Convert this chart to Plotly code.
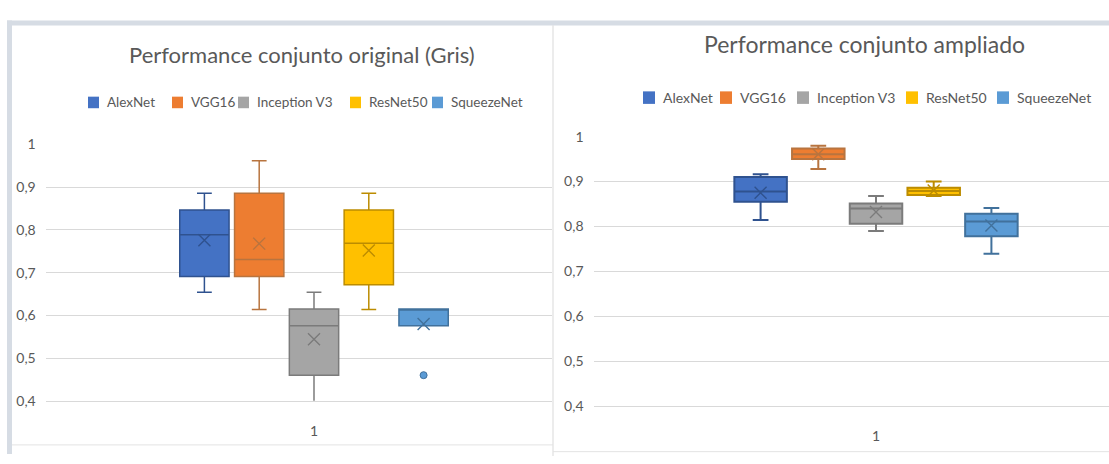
import plotly.graph_objects as go

W, H = 1109, 464

models = ["AlexNet", "VGG16", "Inception V3", "ResNet50", "SqueezeNet"]
fill_colors = ["#4472C4", "#ED7D31", "#A5A5A5", "#FFC000", "#5B9BD5"]
line_colors = ["#2F528F", "#B8743F", "#7B7B7B", "#BC8C00", "#41719C"]

# Left chart: Performance conjunto original (Gris)
orig_lower = [0.654, 0.614, 0.396, 0.614, 0.576]
orig_q1 = [0.691, 0.691, 0.460, 0.672, 0.576]
orig_median = [0.789, 0.731, 0.576, 0.769, 0.615]
orig_q3 = [0.847, 0.886, 0.615, 0.847, 0.615]
orig_upper = [0.886, 0.962, 0.654, 0.886, 0.615]
orig_mean = [0.776, 0.768, 0.544, 0.752, 0.580]
orig_outlier_model = ["SqueezeNet"]
orig_outlier_value = [0.460]

# Right chart: Performance conjunto ampliado
ampl_lower = [0.814, 0.928, 0.790, 0.868, 0.739]
ampl_q1 = [0.855, 0.950, 0.806, 0.870, 0.778]
ampl_median = [0.878, 0.961, 0.840, 0.879, 0.811]
ampl_q3 = [0.910, 0.9735, 0.851, 0.886, 0.828]
ampl_upper = [0.916, 0.980, 0.868, 0.900, 0.841]
ampl_mean = [0.875, 0.961, 0.832, 0.880, 0.802]

y_ticks = [0.4, 0.5, 0.6, 0.7, 0.8, 0.9, 1.0]
x_tick_label = "1"
titles = ["Performance conjunto original (Gris)", "Performance conjunto ampliado"]

FONT = "Lato, 'Open Sans', sans-serif"
TXT = "#595959"
GRID = "#D9D9D9"


def px_x(v):
    return v / W


def px_y(v):
    return 1 - v / H


fig = go.Figure()

for panel, (lo, q1, med, q3, up, mean, lw, bw, xa, ya) in enumerate([
    (orig_lower, orig_q1, orig_median, orig_q3, orig_upper, orig_mean, 1.5, 0.9, "x", "y"),
    (ampl_lower, ampl_q1, ampl_median, ampl_q3, ampl_upper, ampl_mean, 2.0, 0.91, "x2", "y2"),
]):
    for i, m in enumerate(models):
        fig.add_trace(go.Box(
            x=[m], q1=[q1[i]], median=[med[i]], q3=[q3[i]],
            lowerfence=[lo[i]], upperfence=[up[i]],
            name=m, fillcolor=fill_colors[i],
            line=dict(color=line_colors[i], width=lw),
            width=bw, whiskerwidth=0.3, showlegend=False,
            xaxis=xa, yaxis=ya, hoverinfo="skip",
        ))
        fig.add_trace(go.Scatter(
            x=[m], y=[mean[i]], mode="markers",
            marker=dict(symbol="x-thin", size=12,
                        line=dict(color=line_colors[i], width=1.4)),
            showlegend=False, xaxis=xa, yaxis=ya, hoverinfo="skip",
        ))

# outlier
fig.add_trace(go.Scatter(
    x=orig_outlier_model, y=orig_outlier_value, mode="markers",
    marker=dict(symbol="circle", size=7, color=fill_colors[4],
                line=dict(color=line_colors[4], width=1)),
    showlegend=False, xaxis="x", yaxis="y", hoverinfo="skip",
))

common_x = dict(type="category", categoryarray=models, categoryorder="array",
                showgrid=False, zeroline=False, showline=True, linecolor=GRID,
                linewidth=1, ticks="", tickvals=[models[2]], ticktext=[x_tick_label],
                tickfont=dict(family=FONT, size=14, color=TXT), ticklabelstandoff=17,
                fixedrange=True)
common_y = dict(range=[0.4, 1.0], tickvals=y_ticks, tickformat=".1~f",
                showgrid=True, gridcolor=GRID, gridwidth=1, zeroline=False,
                showline=False, ticks="", ticklabelstandoff=9,
                tickfont=dict(family=FONT, size=14, color=TXT), fixedrange=True)

fig.update_layout(
    width=W, height=H, margin=dict(l=0, r=0, t=0, b=0),
    paper_bgcolor="white", plot_bgcolor="white",
    separators=",.",
    showlegend=False,
    xaxis=dict(common_x, domain=[px_x(45.7), px_x(552)], range=[-2.896, 6.343], anchor="y"),
    yaxis=dict(common_y, domain=[px_y(406.7), px_y(140.7)], anchor="x"),
    xaxis2=dict(common_x, domain=[px_x(593.5), 1.0], range=[-2.896, 6.038], anchor="y2"),
    yaxis2=dict(common_y, domain=[px_y(412), px_y(132.5)], anchor="x2"),
)

# frame decorations
shapes = [
    dict(type="rect", xref="paper", yref="paper", x0=px_x(7), x1=1, y0=px_y(17), y1=px_y(12),
         fillcolor="#D6DCE4", line=dict(width=0), layer="above"),
    dict(type="rect", xref="paper", yref="paper", x0=px_x(7), x1=px_x(12), y0=px_y(462), y1=px_y(12),
         fillcolor="#D6DCE4", line=dict(width=0), layer="above"),
    dict(type="line", xref="paper", yref="paper", x0=px_x(553), x1=px_x(553), y0=0, y1=px_y(17),
         line=dict(color="#D9D9D9", width=1)),
    dict(type="line", xref="paper", yref="paper", x0=px_x(12), x1=px_x(553), y0=px_y(452.5), y1=px_y(452.5),
         line=dict(color="#E3E3E3", width=1)),
    dict(type="line", xref="paper", yref="paper", x0=px_x(553), x1=1, y0=px_y(459.5), y1=px_y(459.5),
         line=dict(color="#E3E3E3", width=1)),
]

annotations = [
    dict(text=titles[0], xref="paper", yref="paper", x=px_x(302), y=px_y(47), xanchor="center",
         yanchor="middle", showarrow=False, font=dict(family=FONT, size=22, color=TXT)),
    dict(text=titles[1], xref="paper", yref="paper", x=px_x(864), y=px_y(36), xanchor="center",
         yanchor="middle", showarrow=False, font=dict(family=FONT, size=23, color=TXT)),
]

# legends (one per chart)
legend_specs = [
    ([88, 172, 238, 350, 432], 97, 11, 13.5),
    ([643, 720, 797, 906, 997], 92, 12, 14),
]
for xs, yc, sq, fs in legend_specs:
    for i, m in enumerate(models):
        shapes.append(dict(type="rect", xref="paper", yref="paper",
                           x0=px_x(xs[i]), x1=px_x(xs[i] + sq),
                           y0=px_y(yc + sq / 2 + 0.5), y1=px_y(yc - sq / 2 - 0.5),
                           fillcolor=fill_colors[i], line=dict(width=0)))
        annotations.append(dict(text=m, xref="paper", yref="paper", x=px_x(xs[i] + sq + 6),
                                y=px_y(yc), xanchor="left", yanchor="middle", showarrow=False,
                                font=dict(family=FONT, size=fs, color=TXT)))

fig.update_layout(shapes=shapes, annotations=annotations)

fig.write_html("out.html", config={"displayModeBar": False},
               post_script="document.body.style.margin='0';")
